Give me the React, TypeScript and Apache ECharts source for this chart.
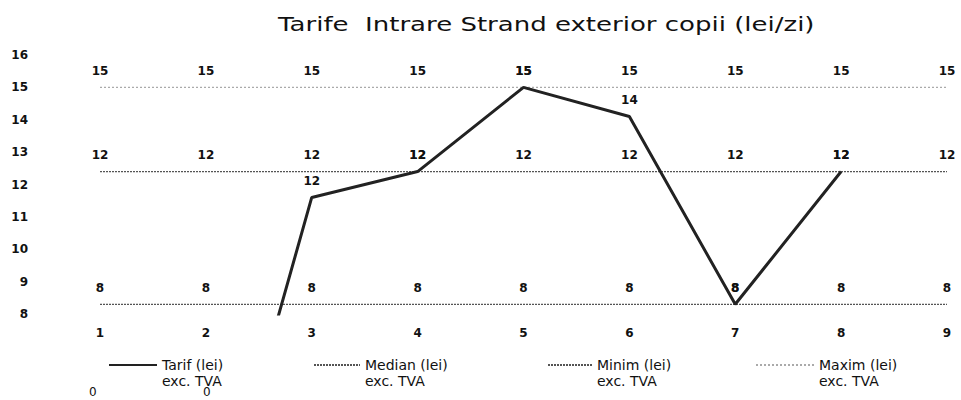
import React, { useEffect, useRef } from "react";
import * as echarts from "echarts";

const categories = ["1", "2", "3", "4", "5", "6", "7", "8", "9"];
const tarif: (number | null)[] = [0, 0, 11.6, 12.4, 15, 14.1, 8.3, 12.4, null];
const median = [12.4, 12.4, 12.4, 12.4, 12.4, 12.4, 12.4, 12.4, 12.4];
const minim = [8.3, 8.3, 8.3, 8.3, 8.3, 8.3, 8.3, 8.3, 8.3];
const maxim = [15, 15, 15, 15, 15, 15, 15, 15, 15];
const seriesNames = ["Tarif (lei)\nexc. TVA", "Median (lei)\nexc. TVA", "Minim (lei)\nexc. TVA", "Maxim (lei)\nexc. TVA"];
const titleText = "Tarife  Intrare Strand exterior copii (lei/zi)";
const yTicks = { min: 8, max: 16, interval: 1 };

const labelFont = "DejaVu Sans";
const textFont = "DejaVu Sans";

export default function App() {
  const ref = useRef<HTMLDivElement>(null);
  useEffect(() => {
    document.body.style.margin = "0";
    if (!ref.current) return;
    const chart = echarts.init(ref.current, null, { renderer: "svg" });
    const dataLabel = {
      show: true,
      position: "top" as const,
      distance: 10,
      fontFamily: labelFont,
      fontWeight: "bold" as const,
      fontSize: 12,
      color: "#111",
      formatter: (p: any) => String(Math.round(p.value)),
    };
    const legendBase = (name: string, left: number, width: number) => ({
      data: [name],
      left,
      top: 336,
      itemWidth: width,
      itemHeight: 12,
      itemGap: 0,
      selectedMode: false,
      formatter: (n: string) => " \n" + n,
      textStyle: {
        fontFamily: textFont,
        fontSize: 14,
        color: "#111",
        lineHeight: 16,
      },
    });
    chart.setOption({
      animation: false,
      backgroundColor: "#fff",
      grid: { left: 100, right: 14, top: 55, bottom: 86 },
      xAxis: {
        type: "category",
        data: categories,
        boundaryGap: false,
        axisLine: { show: false },
        axisTick: { show: false },
        axisLabel: { margin: 13, fontFamily: labelFont, fontWeight: "bold", fontSize: 12, color: "#111" },
        splitLine: { show: false },
      },
      yAxis: {
        type: "value",
        min: yTicks.min,
        max: yTicks.max,
        interval: yTicks.interval,
        axisLine: { show: false },
        axisTick: { show: false },
        splitLine: { show: false },
        axisLabel: { margin: 72, fontFamily: labelFont, fontWeight: "bold", fontSize: 12, color: "#111" },
      },
      legend: [
        legendBase(seriesNames[0], 103, 48),
        legendBase(seriesNames[1], 308, 46),
        legendBase(seriesNames[2], 542, 44),
        legendBase(seriesNames[3], 750, 58),
      ],
      graphic: [
        {
          type: "text",
          x: 278,
          y: 14,
          scaleX: 1.3,
          style: { text: titleText, font: `20px ${textFont}`, fill: "#111", verticalAlign: "top" },
        },
        { type: "text", left: 89, top: 386, style: { text: String(tarif[0]), font: `12px ${textFont}`, fill: "#111" } },
        { type: "text", left: 203, top: 386, style: { text: String(tarif[1]), font: `12px ${textFont}`, fill: "#111" } },
      ],
      series: [
        {
          name: seriesNames[1],
          type: "line",
          data: median,
          symbol: "circle",
          symbolSize: 1,
          itemStyle: { color: "rgba(0,0,0,0)" },
          lineStyle: { color: "#555", width: 1.2, type: [2, 1] },
          label: dataLabel,
          z: 2,
        },
        {
          name: seriesNames[2],
          type: "line",
          data: minim,
          symbol: "circle",
          symbolSize: 1,
          itemStyle: { color: "rgba(0,0,0,0)" },
          lineStyle: { color: "#555", width: 1.2, type: [2, 1] },
          label: dataLabel,
          z: 2,
        },
        {
          name: seriesNames[3],
          type: "line",
          data: maxim,
          symbol: "circle",
          symbolSize: 1,
          itemStyle: { color: "rgba(0,0,0,0)" },
          lineStyle: { color: "#aaa", width: 1.2, type: [2, 2] },
          label: dataLabel,
          z: 2,
        },
        {
          name: seriesNames[0],
          type: "line",
          data: tarif,
          clip: true,
          symbol: "circle",
          symbolSize: 1,
          itemStyle: { color: "rgba(0,0,0,0)" },
          lineStyle: { color: "#222", width: 3 },
          label: { ...dataLabel, show: true },
          z: 3,
        },
      ],
    });
    return () => chart.dispose();
  }, []);
  return <div ref={ref} style={{ width: 961, height: 400 }} />;
}
